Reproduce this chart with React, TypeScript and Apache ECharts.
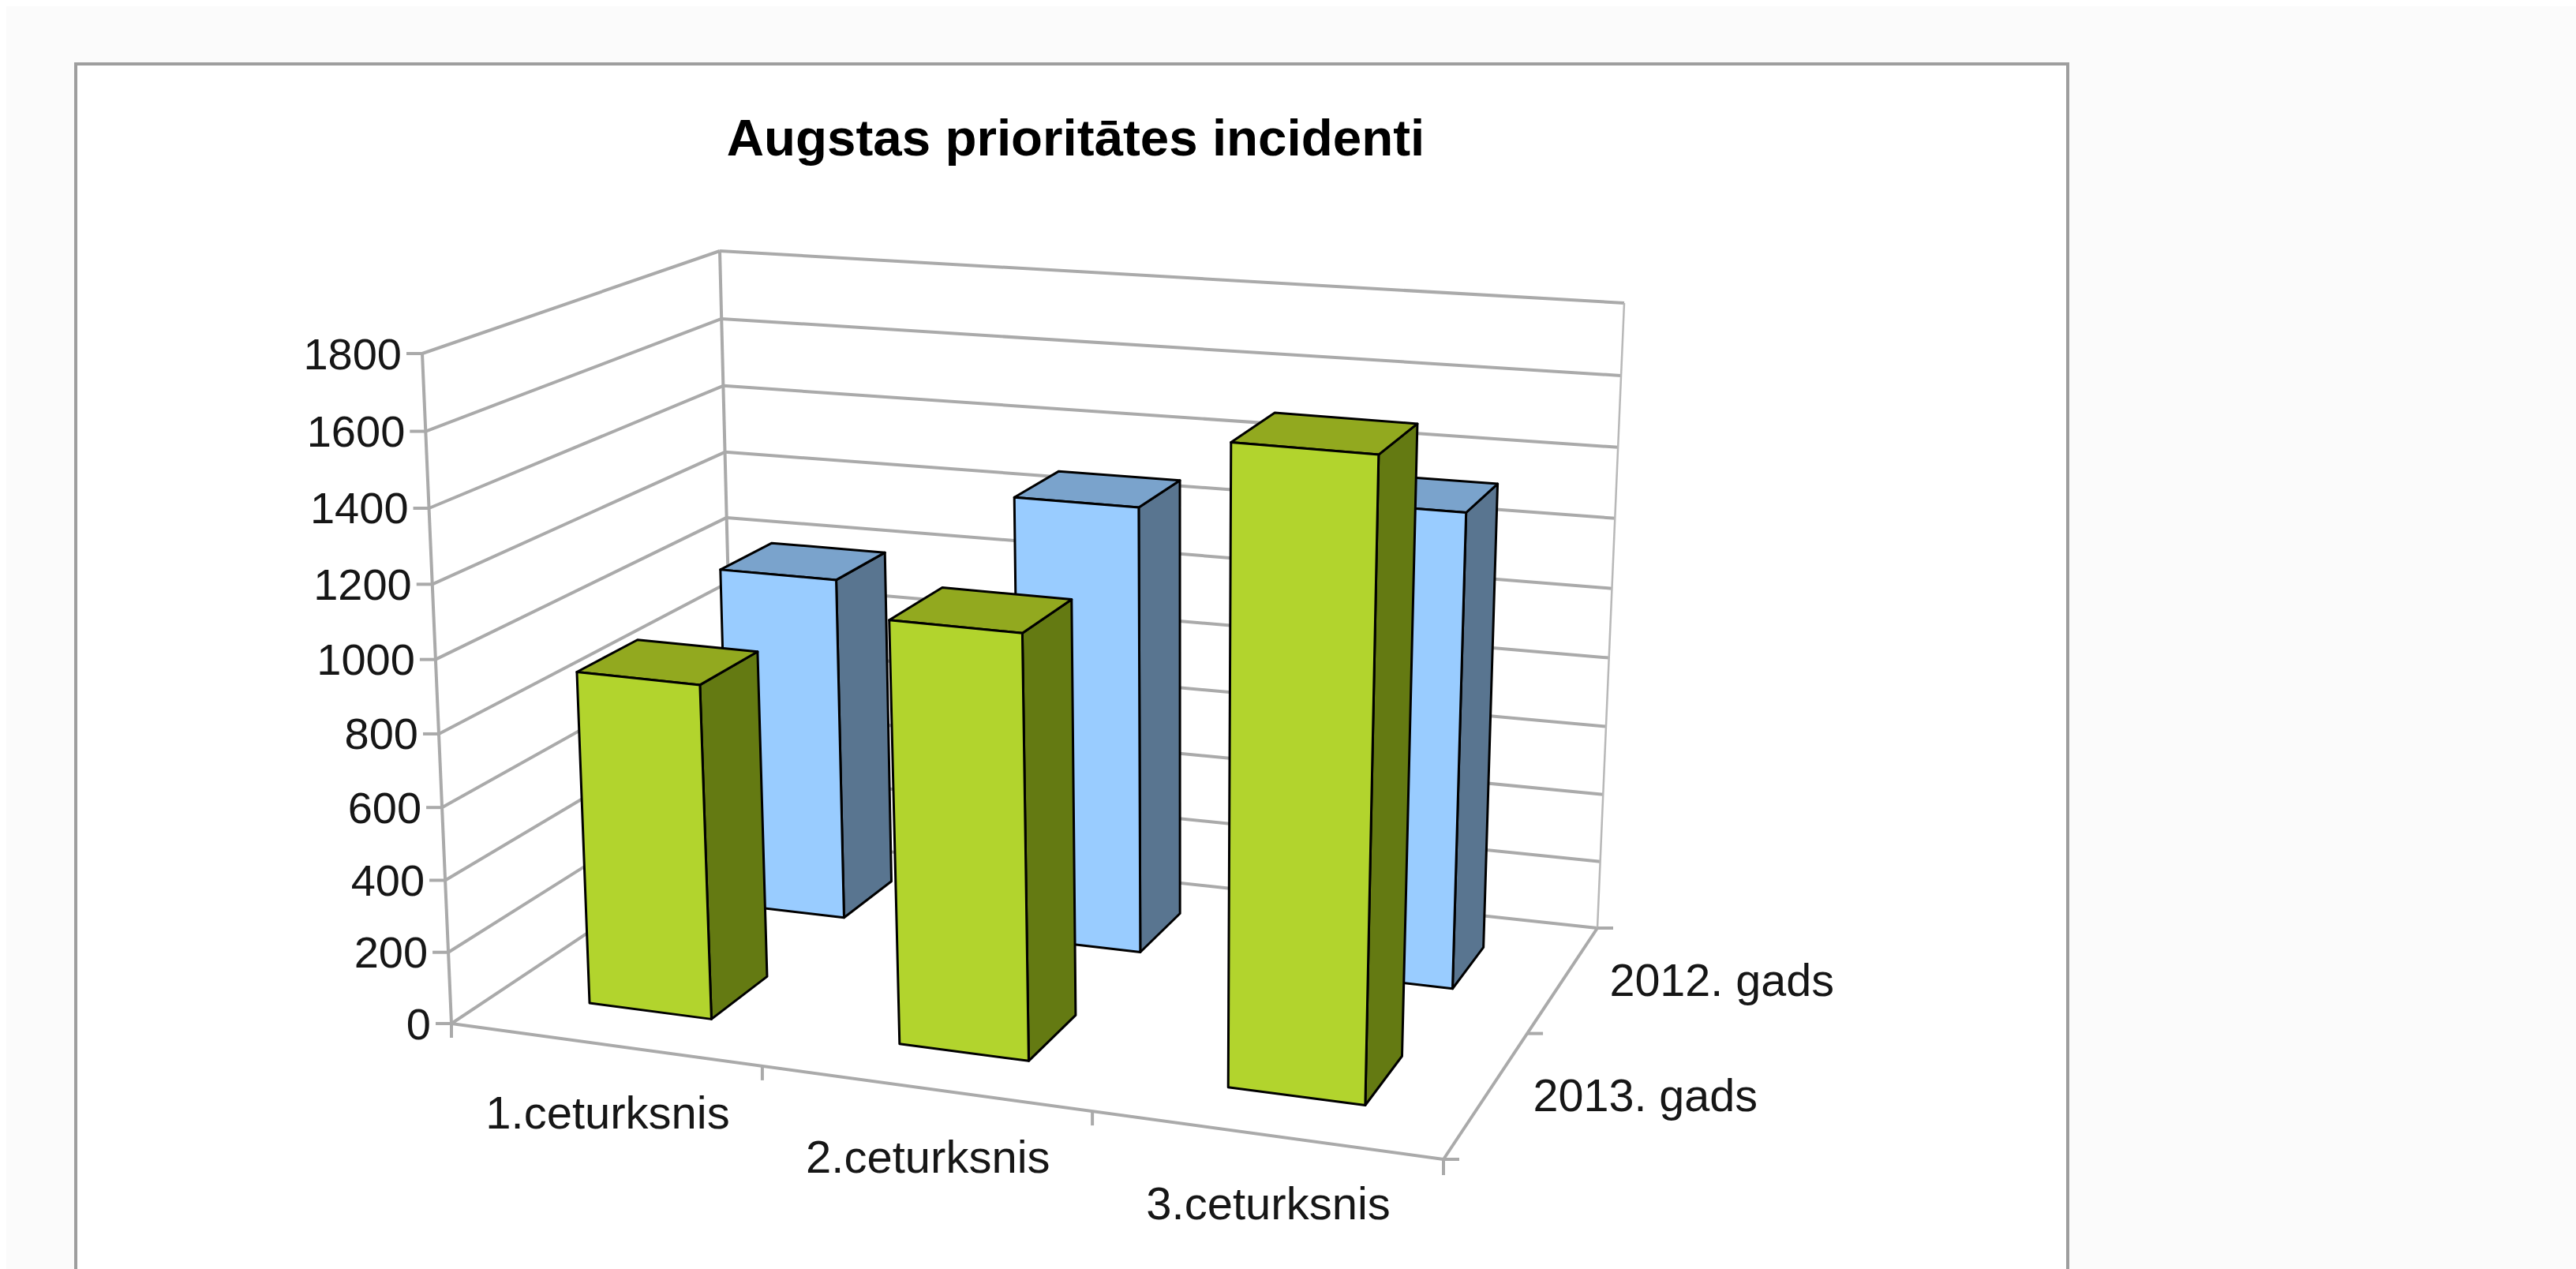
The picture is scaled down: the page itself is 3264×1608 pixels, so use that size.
import React, { useEffect, useRef } from "react";
import * as echarts from "echarts";

const titleText = "Augstas prioritātes incidenti";
const categories = ["1.ceturksnis", "2.ceturksnis", "3.ceturksnis"];
const depthLabels = ["2013. gads", "2012. gads"];
const tickValues = [0, 200, 400, 600, 800, 1000, 1200, 1400, 1600, 1800];
const values2012 = [1000, 1278, 1335];
const values2013 = [925, 1150, 1685];

type Pt = [number, number];
const OFFSET = 8;
const FONT = "'Liberation Sans', Arial, sans-serif";
const GRID_COLOR = "#aaaaaa";
const TEXT_COLOR = "#161616";

// Perspective calibration of the chart box: floor and ceiling planes (page px)
function quadMap(p00: Pt, p10: Pt, p11: Pt, p01: Pt) {
  const dx1 = p10[0] - p11[0];
  const dx2 = p01[0] - p11[0];
  const sx = p00[0] - p10[0] + p11[0] - p01[0];
  const dy1 = p10[1] - p11[1];
  const dy2 = p01[1] - p11[1];
  const sy = p00[1] - p10[1] + p11[1] - p01[1];
  const den = dx1 * dy2 - dx2 * dy1;
  const g = (sx * dy2 - dx2 * sy) / den;
  const k = (dx1 * sy - sx * dy1) / den;
  const a = p10[0] - p00[0] + g * p10[0];
  const b = p01[0] - p00[0] + k * p01[0];
  const d = p10[1] - p00[1] + g * p10[1];
  const e = p01[1] - p00[1] + k * p01[1];
  return (u: number, v: number): Pt => {
    const w = 1 + g * u + k * v;
    return [(a * u + b * v + p00[0]) / w, (d * u + e * v + p00[1]) / w];
  };
}
const floorMap = quadMap([572, 1297], [1829, 1469], [2024, 1176], [931, 1058]);
const ceilMap = quadMap([535, 448], [1858, 560], [2058, 384], [912, 318]);

// Foreshortening along one unit axis
const warp = (t: number, k: number) => (k * t) / (1 + (k - 1) * t);

function project(u: number, d: number, h: number): Pt {
  const f = floorMap(warp(u, 1.032), d);
  const c = ceilMap(warp(u, 1.075), d);
  const hw = warp(h, 0.952);
  return [f[0] + (c[0] - f[0]) * hw - OFFSET, f[1] + (c[1] - f[1]) * hw - OFFSET];
}

function unit(params: any, api: any, xv: number, yv: number): [number, number] {
  const cs = params.coordSys;
  const p = api.coord([xv, yv]);
  return [(p[0] - cs.x) / cs.width, 1 - (p[1] - cs.y) / cs.height];
}

const line = (a: Pt, b: Pt, w = 4, color = GRID_COLOR) => ({
  type: "line",
  shape: { x1: a[0], y1: a[1], x2: b[0], y2: b[1] },
  style: { stroke: color, lineWidth: w },
  silent: true,
});

const label = (text: string, x: number, y: number, align: string, fontSize: number) => ({
  type: "text",
  style: {
    text,
    x,
    y,
    align,
    verticalAlign: "middle",
    fill: TEXT_COLOR,
    fontSize,
    fontFamily: FONT,
  },
  silent: true,
});

function barSeries(
  name: string,
  values: number[],
  depth: number,
  colors: { front: string; top: string; side: string },
) {
  const halfCat = 0.2;
  const halfDepth = 0.1;
  return {
    type: "custom",
    name,
    coordinateSystem: "cartesian2d",
    clip: false,
    silent: true,
    encode: { x: 0, y: 1 },
    data: values.map((v, i) => [i + 0.5, v]),
    renderItem: (params: any, api: any) => {
      const xc = api.value(0);
      const val = api.value(1);
      const [u0, h] = unit(params, api, xc - halfCat, val);
      const [u1] = unit(params, api, xc + halfCat, val);
      const d0 = depth - halfDepth;
      const d1 = depth + halfDepth;
      const poly = (pts: Pt[], fill: string) => ({
        type: "polygon",
        shape: { points: pts },
        style: { fill, stroke: "#000000", lineWidth: 3, lineJoin: "round" },
        silent: true,
      });
      return {
        type: "group",
        children: [
          poly(
            [project(u1, d0, 0), project(u1, d1, 0), project(u1, d1, h), project(u1, d0, h)],
            colors.side,
          ),
          poly(
            [project(u0, d0, h), project(u1, d0, h), project(u1, d1, h), project(u0, d1, h)],
            colors.top,
          ),
          poly(
            [project(u0, d0, 0), project(u1, d0, 0), project(u1, d0, h), project(u0, d0, h)],
            colors.front,
          ),
        ],
      };
    },
  };
}

export default function App() {
  const ref = useRef<HTMLDivElement>(null);
  useEffect(() => {
    const chart = echarts.init(ref.current!, undefined, { renderer: "svg" });
    const maxY = tickValues[tickValues.length - 1];
    chart.setOption({
      animation: false,
      backgroundColor: "#fbfbfb",
      title: {
        text: titleText,
        left: 1358 - OFFSET,
        top: 173 - OFFSET - 37,
        textAlign: "center",
        textStyle: { fontFamily: FONT, fontSize: 65.5, fontWeight: "bold", color: "#000000" },
      },
      graphic: [
        {
          type: "rect",
          z: 0,
          silent: true,
          shape: { x: 96 - OFFSET, y: 81 - OFFSET, width: 2524, height: 1700 },
          style: { fill: "#ffffff", stroke: "#9e9e9e", lineWidth: 4 },
        },
      ],
      grid: { left: 100, top: 100, width: 1000, height: 1000, show: false },
      xAxis: { type: "value", min: 0, max: categories.length, show: false },
      yAxis: { type: "value", min: 0, max: maxY, interval: 200, show: false },
      series: [
        {
          type: "custom",
          name: "walls",
          coordinateSystem: "cartesian2d",
          clip: false,
          silent: true,
          encode: { x: 0, y: 1 },
          data: tickValues.map((t) => [0, t]),
          renderItem: (params: any, api: any) => {
            const val = api.value(1);
            const [, h] = unit(params, api, 0, val);
            const a = project(0, 0, h);
            const b = project(0, 1, h);
            const c = project(1, 1, h);
            const children: any[] = [
              line([a[0] - 20, a[1]], a),
              line(a, b),
              line(b, c),
              label(String(val), a[0] - 26, a[1], "right", 56),
            ];
            return { type: "group", children };
          },
        },
        {
          type: "custom",
          name: "frame",
          coordinateSystem: "cartesian2d",
          clip: false,
          silent: true,
          encode: { x: 0, y: 1 },
          data: [[0, 0]],
          renderItem: (params: any, api: any) => {
            const [, top] = unit(params, api, 0, maxY);
            const children: any[] = [
              line(project(0, 0, 0), project(0, 0, top)),
              line(project(0, 1, 0), project(0, 1, top)),
              line(project(1, 1, 0), project(1, 1, top), 2.5, "#b8b8b8"),
              line(project(0, 0, 0), project(1, 0, 0)),
              line(project(1, 0, 0), project(1, 1, 0)),
            ];
            categories.forEach((_c, i) => {
              const [u] = unit(params, api, i, 0);
              const p = project(u, 0, 0);
              children.push(line(p, [p[0], p[1] + 18]));
            });
            const end = project(1, 0, 0);
            children.push(line(end, [end[0], end[1] + 20]));
            [0, 0.5, 1].forEach((d) => {
              const p = project(1, d, 0);
              children.push(line(p, [p[0] + 20, p[1]]));
            });
            return { type: "group", children };
          },
        },
        barSeries("2012. gads", values2012, 0.75, {
          front: "#99ccff",
          top: "#7aa3cc",
          side: "#597590",
        }),
        barSeries("2013. gads", values2013, 0.25, {
          front: "#b2d42d",
          top: "#92a91f",
          side: "#647a12",
        }),
        {
          type: "custom",
          name: "labels",
          coordinateSystem: "cartesian2d",
          clip: false,
          silent: true,
          encode: { x: 0, y: 1 },
          data: [[0, 0]],
          renderItem: (params: any, api: any) => {
            const children: any[] = [];
            categories.forEach((c, i) => {
              const [u] = unit(params, api, i + 0.5, 0);
              const p = project(u, 0, 0);
              children.push(label(c, p[0] + 4, p[1] + 86, "center", 58));
            });
            depthLabels.forEach((t, i) => {
              const p = project(1, (i + 0.5) / depthLabels.length, 0);
              children.push(label(t, p[0] + 58, p[1] + 2, "left", 57.5));
            });
            return { type: "group", children };
          },
        },
      ],
    });
    return () => chart.dispose();
  }, []);
  return (
    <div
      ref={ref}
      style={{ position: "absolute", left: 8, top: 8, width: 3256, height: 1600 }}
    />
  );
}
